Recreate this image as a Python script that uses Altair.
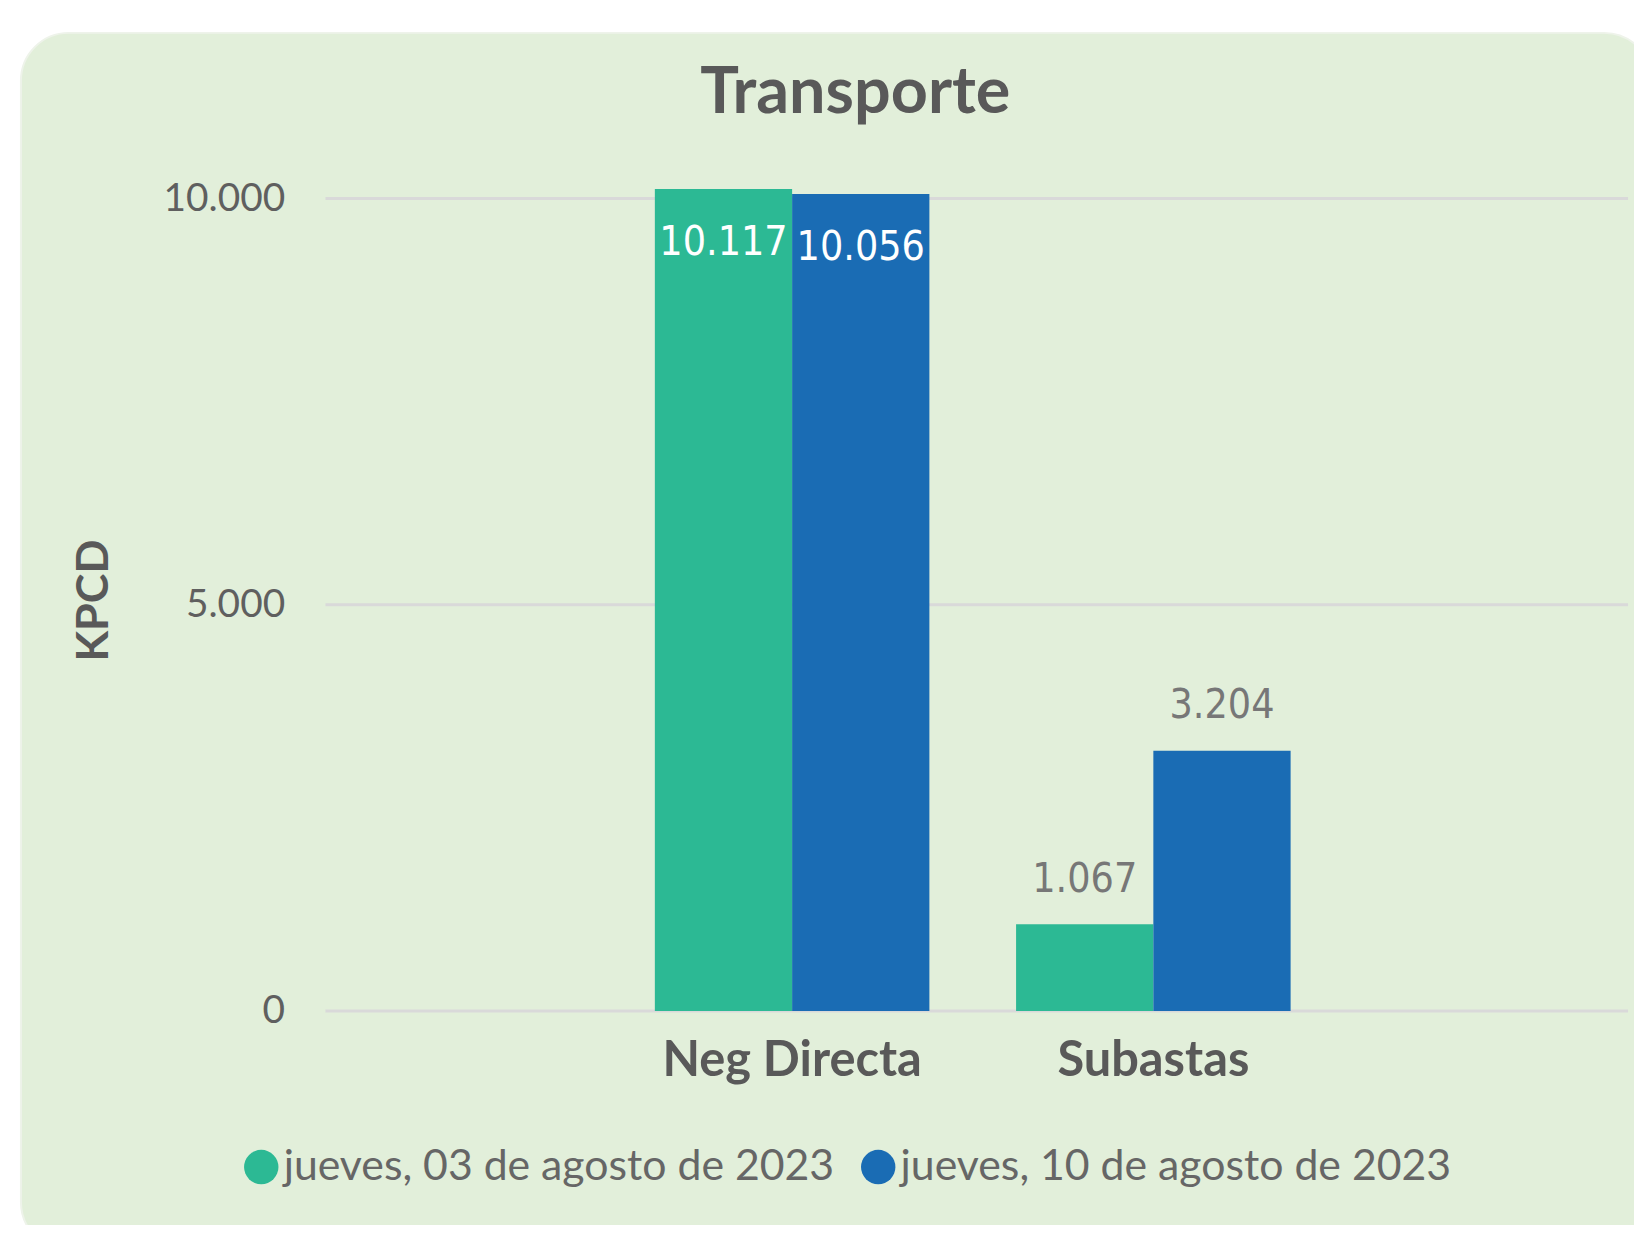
import altair as alt
import pandas as pd

categories = ["Neg Directa", "Subastas"]
series = ["jueves, 03 de agosto de 2023", "jueves, 10 de agosto de 2023"]
values_0308 = [10117, 1067]
values_1008 = [10056, 3204]
colors = ["#2CB994", "#1A6CB4"]
y_ticks = [0, 5000, 10000]

rows = []
for cat, v1, v2 in zip(categories, values_0308, values_1008):
    for s, v in zip(series, [v1, v2]):
        rows.append({"cat": cat, "serie": s, "value": v,
                     "label": f"{v:,}".replace(",", ".")})
df = pd.DataFrame(rows)

W, H = 1309, 826
CARD = "#E2EFDA"

x = alt.X("cat:N", sort=categories, title=None,
          scale=alt.Scale(paddingInner=0.24, paddingOuter=0.923, align=0.494),
          axis=alt.Axis(labelAngle=0, labelFont="Lato", labelFontSize=49,
                        labelFontWeight="bold", labelColor="#595959",
                        labelPadding=26, labelLimit=1000, ticks=False, domain=False,
                        zindex=1))
xo = alt.XOffset("serie:N", sort=series, scale=alt.Scale(paddingInner=0, paddingOuter=0))
y = alt.Y("value:Q", scale=alt.Scale(domain=[0, 10117], nice=False),
          title="KPCD",
          axis=alt.Axis(values=y_ticks, labelExpr="replace(datum.label, ',', '.')",
                        labelFont="Lato", labelFontSize=39, labelColor="#5F5F5F",
                        labelPadding=41, ticks=False, domain=False, grid=False,
                        titleFont="Lato", titleFontSize=45, titleFontWeight="bold",
                        titleColor="#595959", titleX=-233, titleY=H / 2,
                        titleBaseline="middle", titleAngle=-90, zindex=1))
color = alt.Color("serie:N", sort=series,
                  scale=alt.Scale(domain=series, range=colors),
                  legend=alt.Legend(title=None, orient="none", direction="horizontal",
                                    legendX=-86, legendY=961,
                                    symbolType="circle", symbolSize=1195,
                                    symbolStrokeWidth=0, symbolOpacity=1,
                                    labelFont="Lato", labelFontSize=43,
                                    labelColor="#666666", labelOffset=1,
                                    columnPadding=22, labelLimit=800))

# decorative rounded card behind the chart
card = alt.Chart(pd.DataFrame({"card": [0]})).mark_rect(
    fill=CARD, cornerRadius=48, stroke="#EEF3EA", strokeWidth=2).encode(
    x=alt.value(-306), x2=alt.value(W + 24),
    y=alt.value(-157), y2=alt.value(H + 240))

grid = alt.Chart(pd.DataFrame({"value": y_ticks})).mark_rule(
    color="#D9D9D9", strokeWidth=3).encode(y=y)

base = alt.Chart(df)
bars = base.mark_bar().encode(x=x, xOffset=xo, y=y, color=color)
inside = base.mark_text(baseline="top", dy=34, color="white",
                        font="DejaVu Sans Condensed, Roboto", fontSize=41).encode(
    x=x, xOffset=xo, y=y, text="label:N").transform_filter("datum.value > 5000")
outside = base.mark_text(baseline="bottom", dy=-24, color="#777777",
                         font="DejaVu Sans Condensed, Roboto", fontSize=41).encode(
    x=x, xOffset=xo, y=y, text="label:N").transform_filter("datum.value <= 5000")

chart = alt.layer(card, grid, bars, inside, outside).properties(
    width=W, height=H,
    title=alt.TitleParams("Transporte", font="Lato", fontSize=65, fontWeight="bold",
                          color="#595959", anchor="middle", frame="group",
                          dx=-122, offset=-96, zindex=1),
    background="white",
    padding={"left": 319, "top": 179, "right": 6, "bottom": 212},
    autosize=alt.AutoSizeParams(type="none"),
).configure_view(stroke=None)

chart.save("out.html", embed_options={"renderer": "svg", "actions": False})
